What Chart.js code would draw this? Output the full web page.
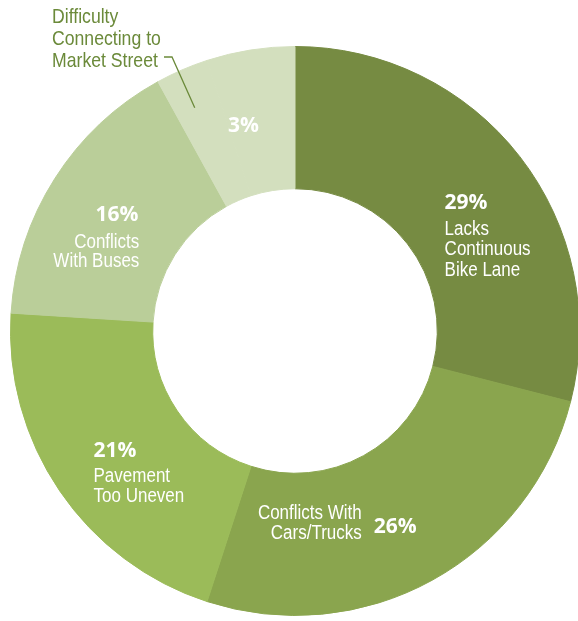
<!DOCTYPE html>
<html>
<head>
<meta charset="utf-8">
<script src="https://cdn.jsdelivr.net/npm/chart.js@4.4.1/dist/chart.umd.min.js"></script>
<style>
  html, body { margin: 0; padding: 0; background: #fff; overflow: hidden; }
  #wrap { width: 590px; height: 621px; }
</style>
</head>
<body>
<div id="wrap"><canvas id="chart" width="590" height="621"></canvas></div>
<script>
const categories = [
  "Lacks Continuous Bike Lane",
  "Conflicts With Cars/Trucks",
  "Pavement Too Uneven",
  "Conflicts With Buses",
  "Difficulty Connecting to Market Street"
];
const percents = [29, 26, 21, 16, 3];
// listed answers add up to 95%, the remaining 5% shares the lightest wedge
const otherPercent = 5;
const sliceColors = ["#768B42", "#8AA54E", "#9BBB59", "#BACE99", "#D3DFBE"];

// caption line breaks
const captionLines = [
  ["Lacks", "Continuous", "Bike Lane"],
  ["Conflicts With", "Cars/Trucks"],
  ["Pavement", "Too Uneven"],
  ["Conflicts", "With Buses"],
  ["Difficulty", "Connecting to", "Market Street"]
];

const values = percents.concat([otherPercent]);
const colors = sliceColors.concat([sliceColors[sliceColors.length - 1]]);

// offsets of the labels from each wedge's centre point
const labelLayout = [
  { pct: [-19, 3, "left"], text: [-19, 29, "left"], step: 20.5 },
  { pct: [-24, 9, "left"], text: [-36, -4, "right"], step: 20 },
  { pct: [-25, 0, "left"], text: [-25, 26, "left"], step: 19.5 },
  { pct: [23.5, -1.5, "right"], text: [24.5, 25.5, "right"], step: 19 },
  { pct: [1.6, 2, "center"] }
];

const TEXT_FONT = '20px "Liberation Sans", Arial, sans-serif';
const PCT_FONT = 'bold 21px "Open Sans", sans-serif';
const OUTSIDE_GREEN = "#6B8A3A";

function squeezedText(ctx, str, x, y, align, sx) {
  ctx.save();
  ctx.translate(x, y);
  ctx.scale(sx, 1);
  ctx.textAlign = align;
  ctx.fillText(str, 0, 0);
  ctx.restore();
}

function spanCenter(arcs, from, to, radiusFrac) {
  const a = arcs[from], b = arcs[to];
  const mid = (a.startAngle + b.endAngle) / 2;
  const r = a.innerRadius + (a.outerRadius - a.innerRadius) * radiusFrac;
  return { x: a.x + Math.cos(mid) * r, y: a.y + Math.sin(mid) * r };
}

const sliceLabels = {
  id: "sliceLabels",
  afterDatasetsDraw(chart) {
    const ctx = chart.ctx;
    const arcs = chart.getDatasetMeta(0).data;
    ctx.save();
    ctx.textBaseline = "middle";

    percents.forEach((p, i) => {
      const last = i === percents.length - 1;
      const c = spanCenter(arcs, i, last ? arcs.length - 1 : i, 0.5);
      const lay = labelLayout[i];

      ctx.fillStyle = "#FFFFFF";
      ctx.font = PCT_FONT;
      ctx.textAlign = lay.pct[2];
      ctx.fillText(p + "%", c.x + lay.pct[0], c.y + lay.pct[1]);

      if (lay.text) {
        ctx.font = TEXT_FONT;
        captionLines[i].forEach((line, k) => {
          squeezedText(ctx, line, c.x + lay.text[0], c.y + lay.text[1] + k * lay.step, lay.text[2], 0.85);
        });
      }
    });

    // caption for the small wedge sits outside, with a leader line
    const lastIdx = percents.length - 1;
    ctx.fillStyle = OUTSIDE_GREEN;
    ctx.font = '21px "Liberation Sans", Arial, sans-serif';
    captionLines[lastIdx].forEach((line, k) => {
      squeezedText(ctx, line, 52, 17 + k * 22, "left", 0.84);
    });

    const a = arcs[lastIdx], b = arcs[arcs.length - 1];
    const ang = a.startAngle + (b.endAngle - a.startAngle) * 0.16;
    const r = a.innerRadius + (a.outerRadius - a.innerRadius) * 0.72;
    ctx.strokeStyle = OUTSIDE_GREEN;
    ctx.lineWidth = 1.3;
    ctx.beginPath();
    ctx.moveTo(164, 57);
    ctx.lineTo(172, 57);
    ctx.lineTo(a.x + Math.cos(ang) * r, a.y + Math.sin(ang) * r);
    ctx.stroke();

    ctx.restore();
  }
};

new Chart(document.getElementById("chart"), {
  type: "doughnut",
  data: {
    labels: categories.concat(["Other"]),
    datasets: [{
      data: values,
      backgroundColor: colors,
      borderColor: colors,
      borderWidth: 1
    }]
  },
  options: {
    responsive: false,
    animation: false,
    cutout: "50%",
    layout: { padding: { left: 10, right: 10, top: 46, bottom: 5 } },
    plugins: {
      legend: { display: false },
      tooltip: { enabled: false }
    }
  },
  plugins: [sliceLabels]
});
</script>
</body>
</html>
